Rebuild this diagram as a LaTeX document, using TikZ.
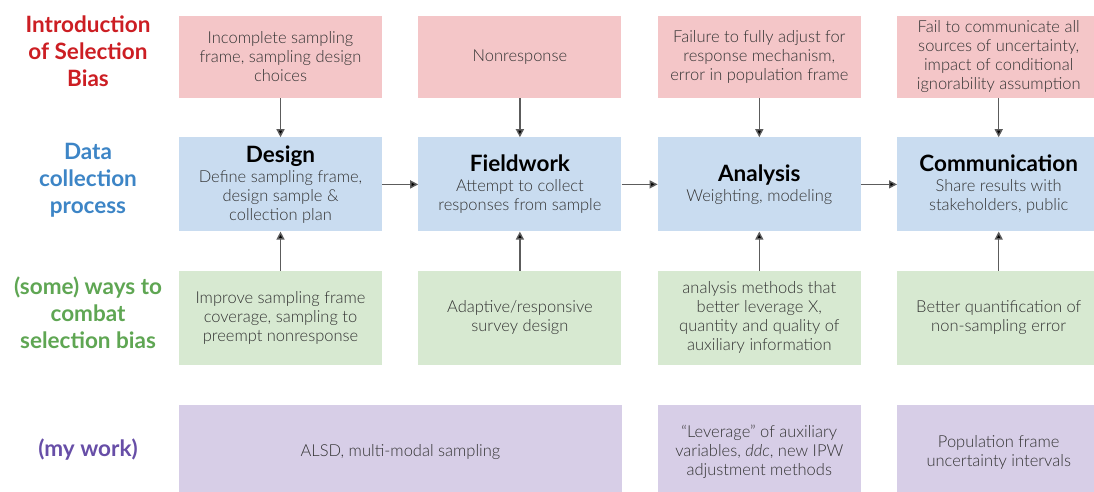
\documentclass[tikz,border=0pt]{standalone}
\usepackage{fontspec}
\setmainfont{Lato Light}[BoldFont=Lato Bold, ItalicFont=Lato Light Italic]
\usetikzlibrary{positioning,arrows.meta}
\definecolor{biasfill}{HTML}{F4C6C8}
\definecolor{stagefill}{HTML}{C9DCF0}
\definecolor{combatfill}{HTML}{D7E9D1}
\definecolor{workfill}{HTML}{D7CEE7}
\definecolor{biasred}{HTML}{CC1E23}
\definecolor{stageblue}{HTML}{3D85C6}
\definecolor{combatgreen}{HTML}{5FA653}
\definecolor{workpurple}{HTML}{674EA7}
\definecolor{bodygray}{HTML}{333333}
\definecolor{arrowgray}{HTML}{5C5C5C}
\tikzstyle{stage grid}=[
    x=1pt, y=-1pt, node distance=39pt and 36pt,
    >={Triangle[length=8pt,width=8pt]},
    every node/.style={align=center, inner sep=0pt, text=bodygray,
        font=\fontsize{16.5}{19}\selectfont},
    bias/.style={fill=biasfill, minimum width=203pt, minimum height=82pt},
    stage/.style={fill=stagefill, minimum width=203pt, minimum height=94pt},
    combat/.style={fill=combatfill, minimum width=203pt, minimum height=94pt},
    work/.style={fill=workfill, minimum width=203pt, minimum height=94pt},
    rowlabel/.style={font=\fontsize{22.5}{27}\selectfont\bfseries},
    flow/.style={->, draw=arrowgray, line width=1.4pt},
]
\newcommand{\stagetitle}[2]{{\fontsize{22.5}{23}\selectfont\bfseries\color{black}#1}\\[1pt]#2}

\begin{document}
\begin{tikzpicture}[stage grid]
        \useasboundingbox (0,0) rectangle (1094,492);

        % row labels
        \node[rowlabel, text=biasred] (lbias) at (88,51) {Introduction\\of Selection\\Bias};
        \node[rowlabel, text=stageblue] (lstage) at (88,180) {Data\\collection\\process};
        \node[rowlabel, text=combatgreen] (lcombat) at (88,313) {(some) ways to\\combat\\selection bias};
        \node[rowlabel, text=workpurple] (lwork) at (88,450) {(my work)};

        % sources of bias
        \node[bias] (b1) at (280.5,57) {Incomplete sampling\\frame, sampling design\\choices};
        \node[bias, right=of b1] (b2) {Nonresponse};
        \node[bias, right=of b2] (b3) {Failure to fully adjust for\\response mechanism,\\error in population frame};
        \node[bias, right=of b3] (b4) {Fail to communicate all\\sources of uncertainty,\\impact of conditional\\ignorability assumption};

        % stages
        \node[stage, below=of b1] (s1) {\stagetitle{Design}{Define sampling frame,\\design sample \&\\collection plan}};
        \node[stage, right=of s1] (s2) {\stagetitle{Fieldwork}{Attempt to collect\\responses from sample}};
        \node[stage, right=of s2] (s3) {\stagetitle{Analysis}{Weighting, modeling}};
        \node[stage, right=of s3] (s4) {\stagetitle{Communication}{Share results with\\stakeholders, public}};

        % remedies
        \node[combat, below=of s1] (c1) {Improve sampling frame\\coverage, sampling to\\preempt nonresponse};
        \node[combat, below=of s2] (c2) {Adaptive/responsive\\survey design};
        \node[combat, below=of s3] (c3) {analysis methods that\\better leverage X,\\quantity and quality of\\auxiliary information};
        \node[combat, below=of s4] (c4) {Better quantification of\\non-sampling error};

        % my work
        \node[work, minimum width=443pt, below=40pt of c1.south west, anchor=north west] (w1) {ALSD, multi-modal sampling};
        \node[work, below=40pt of c3] (w3) {``Leverage'' of auxiliary\\variables, \textit{ddc}, new IPW\\adjustment methods};
        \node[work, below=40pt of c4] (w4) {Population frame\\uncertainty intervals};

        \path[flow]
            (b1) edge (s1)
            (b2) edge (s2)
            (b3) edge (s3)
            (b4) edge (s4)
            (c1) edge (s1)
            (c2) edge (s2)
            (c3) edge (s3)
            (c4) edge (s4)
            (s1) edge (s2)
            (s2) edge (s3)
            (s3) edge (s4)
        ;
    \end{tikzpicture}
\end{document}
